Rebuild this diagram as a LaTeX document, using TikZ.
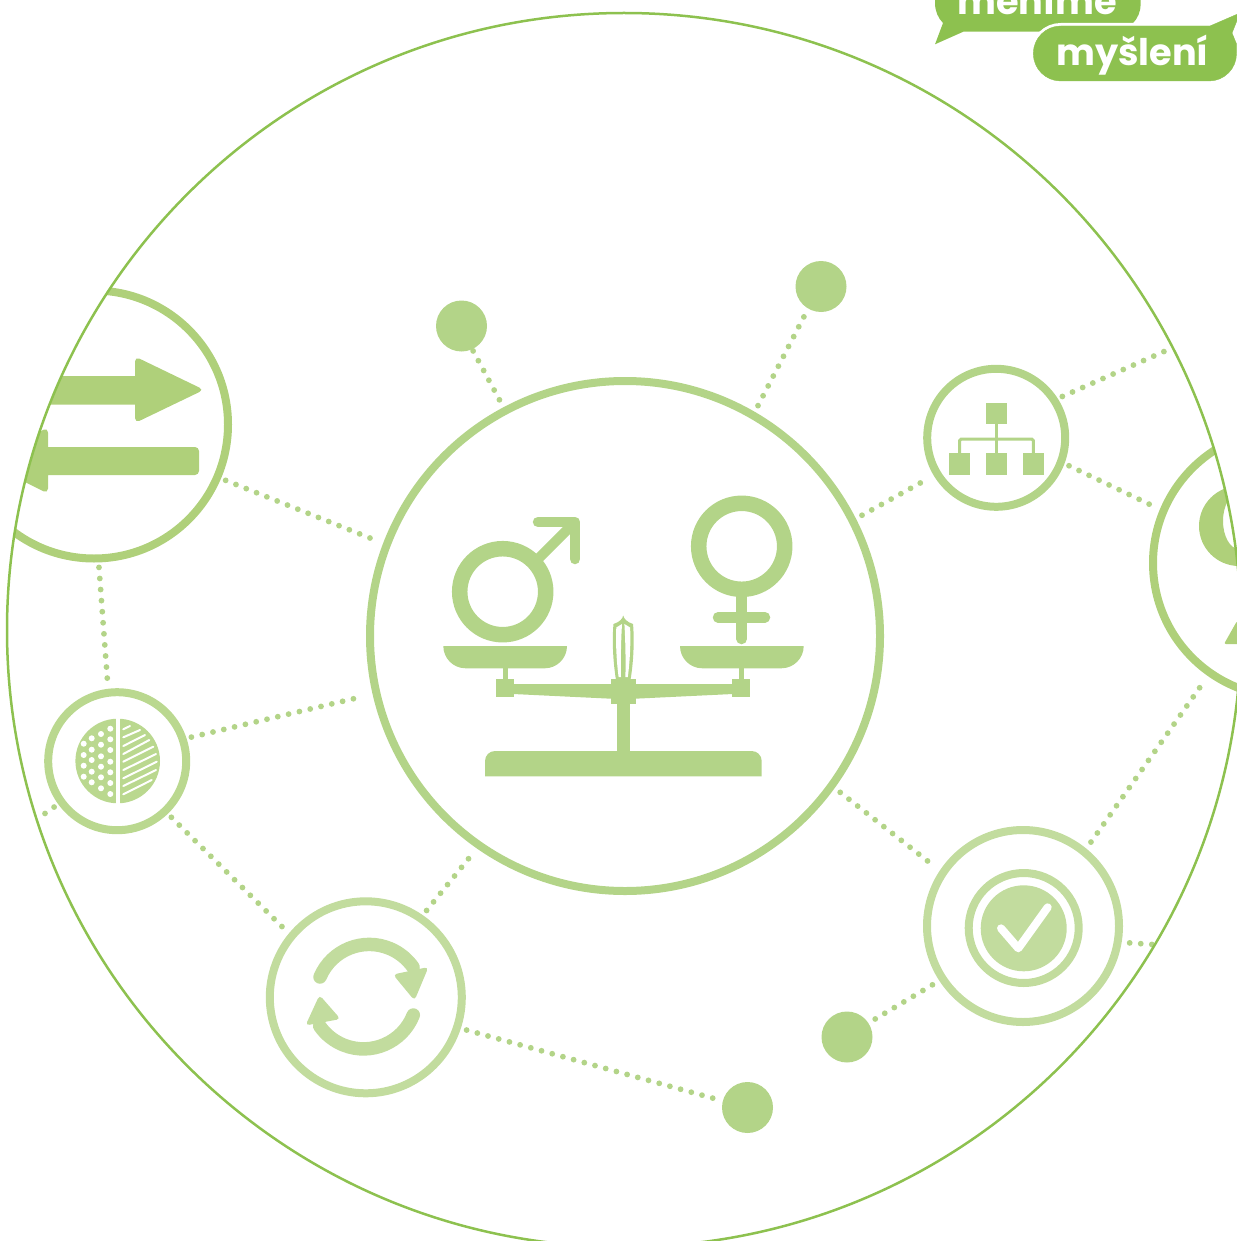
\documentclass[tikz,border=0pt]{standalone}
\usepackage{fontspec}
\usepackage{tikz}
\newfontfamily\bubblefont{Poppins}
\definecolor{edgegreen}{HTML}{8DC14F}
\definecolor{maingreen}{HTML}{B3D488}
\definecolor{midgreen}{HTML}{AFD07A}
\definecolor{softgreen}{HTML}{BAD88F}
\definecolor{palegreen}{HTML}{C2DC9E}

\begin{document}
\begin{tikzpicture}[x=1pt,y=1pt,yscale=-1,
    ring/.style={circle,draw=#1,line width=8,inner sep=0,outer sep=9},
    blob/.style={circle,fill=maingreen,minimum size=51,inner sep=0,outer sep=2},
    link/.style={draw=maingreen,line width=5.8,line cap=round,dash pattern=on 0pt off 11.1pt},
    bubbletext/.style={text=white,anchor=base,inner sep=0,font=\bubblefont\bfseries\fontsize{36.7}{37}\selectfont}]
    \useasboundingbox (0,0) rectangle (1236,1241);
    \begin{scope}
        \clip (624,630) circle (617);
        % the nodes
        \node[ring=maingreen,minimum size=510,outer sep=11] (scales) at (625,636) {};
        \node[ring=midgreen,minimum size=268] (arrows) at (94,424.5) {};
        \node[ring=midgreen,minimum size=268] (bigright) at (1287,563) {};
        \node[ring=maingreen,minimum size=138] (network) at (996.2,437.8) {};
        \node[ring=softgreen,minimum size=138] (pattern) at (117.2,761.2) {};
        \node[ring=palegreen,minimum size=192,outer sep=10] (refresh) at (365.8,997.3) {};
        \node[ring=palegreen,minimum size=192,outer sep=12] (check) at (1023,926) {};
        \node[blob] (blobA) at (461.5,326) {};
        \node[blob] (blobB) at (821,286.5) {};
        \node[blob] (blobC) at (847,1037) {};
        \node[blob] (blobD) at (747.5,1107.5) {};
        \coordinate (nettip) at (1172,348);
        \coordinate (pattip) at (40,817);
        \coordinate (chktip) at (1160,945);
        % the dotted links
        \draw[link] (blobA.-65) -- (scales.118);
        \draw[link] (scales.60) -- (blobB.240);
        \draw[link,shorten >=6] (scales.27) -- (network.211);
        \draw[link] (network.32) -- (nettip);
        \draw[link] (network.-21) -- (bigright.157);
        \draw[link] (arrows.-23) -- (scales.159);
        \draw[link] (arrows.272) -- (pattern.97);
        \draw[link,shorten >=3] (pattern.18) -- (scales.193);
        \draw[link] (pattern.216) -- (pattip);
        \draw[link] (pattern.-46) -- (refresh.140);
        \draw[link] (refresh.55) -- (scales.235);
        \draw[link] (refresh.-18) -- (blobD.165);
        \draw[link] (scales.-36) -- (check.146);
        \draw[link] (check.51) -- (bigright.235);
        \draw[link] (check.-9) -- (chktip);
        \draw[link] (check.213) -- (blobC.33);
        % arrows icon
        \fill[midgreen] (30,376) -- (135,376) [rounded corners=5] -- (135,356.5) -- (204,389.8) -- (135,423) [sharp corners] -- (135,404.5) -- (30,404.5) -- cycle;
        \fill[midgreen] (48,447) [rounded corners=4] -- (199,447) -- (199,475) [sharp corners] -- (48,475) [rounded corners=5] -- (48,493.5) -- (-18,460.5) -- (48,427.5) [sharp corners] -- cycle;
        % big right icon
        \fill[midgreen,even odd rule] (1239,526) ellipse (40 and 40) (1239,521) ellipse (16 and 28);
        \fill[midgreen,rounded corners=2] (1237,621) -- (1224,644) -- (1250,644) -- cycle;
    \end{scope}
    % outer circle
    \draw[edgegreen,line width=2.5] (624,630) circle (617);
    % scales icon
    \begin{scope}[maingreen]
        \draw[line width=15.5] (502.7,591.7) circle (43);
        \draw[line width=15.5] (741.7,546.3) circle (43);
        \draw[line width=10.5,line cap=round,line join=round] (538,522) -- (575,522) -- (575,559);
        \draw[line width=10] (538.5,558.5) -- (575,522);
        \draw[line width=10.5,line cap=round] (741.7,594) -- (741.7,639);
        \draw[line width=10.5,line cap=round] (718,617.3) -- (765,617.3);
        \foreach \px in {443.3,680} {
            \fill (\px,646) -- ++(123.7,0) arc (0:90:22.3) -- ++(-79.1,0) arc (90:180:22.3) -- cycle;
        }
        \fill (502.7,667) rectangle (508,681);
        \fill (738.7,667) rectangle (744,681);
        \fill (496.3,679.3) rectangle (514,697);
        \fill (732.3,679.3) rectangle (750,697);
        \fill (513,684) -- (733,684) -- (733,694) -- (635,698.7) -- (611,698.7) -- (513,694) -- cycle;
        \fill (611,679.3) rectangle (635.7,703.7);
        \fill (616.7,703) rectangle (630,752);
        \fill (485,776.3) -- (485,761) arc (180:270:10) -- (751.7,751) arc (270:360:10) -- (761.7,776.3) -- cycle;
        % the finial
        \fill (623.2,615.5) .. controls (624,619) and (627,622) .. (633,624) .. controls (634.5,640) and (633.5,662) .. (630.5,680) -- (616,680) .. controls (613,662) and (612,640) .. (613.5,624) .. controls (619.5,622) and (622.5,619) .. cycle;
        \fill[white] (616.3,627.5) -- (622,624) .. controls (621,640) and (620.6,660) .. (621,677) -- (618.6,677) .. controls (616.3,660) and (615.6,640) .. cycle;
        \fill[white] (630.1,627.5) -- (624.4,624) .. controls (625.4,640) and (625.8,660) .. (625.4,677) -- (627.8,677) .. controls (630.1,660) and (630.8,640) .. cycle;
    \end{scope}
    % network icon
    \begin{scope}[maingreen]
        \fill (986,403) rectangle (1007.3,424.3);
        \foreach \qx in {949,986,1022.7} {
            \fill (\qx,453.3) rectangle ++(21.3,21.4);
        }
        \draw[line width=3] (996.7,424) -- (996.7,454);
        \draw[line width=3,rounded corners=1.5] (959.7,454) -- (959.7,439) -- (1033.3,439) -- (1033.3,454);
    \end{scope}
    % pattern icon
    \begin{scope}
        \clip (117.7,761) circle (42.3);
        \fill[softgreen] (70,715) rectangle (115.5,810);
        \fill[softgreen] (120,715) rectangle (165,810);
    \end{scope}
    \foreach \dx/\dy in {110.3/728.7,110.3/739.3,110.3/750,110.3/761.7,110.3/772.3,110.3/783,110.3/794,
        101/734,101/744.7,101/756.3,101/766.7,101/777.3,101/788.3,
        91.7/738.3,91.7/749.7,91.7/760,91.7/771.7,91.7/782.3,
        83.7/743.7,83.7/755,83.7/765.7,83.7/776.7} {
        \fill[white] (\dx,\dy) circle (3);
    }
    \foreach \sy/\ex/\ey in {729.3/130/726,737.3/140/730,746/145/735,754/149.3/740,761.7/153.3/746.7,770/156/754,778.3/156.7/761.7,786/156/770,794.3/151.7/780} {
        \draw[white,line width=2,line cap=round] (123.3,\sy) -- (\ex,\ey);
    }
    % refresh icon
    \begin{scope}[palegreen]
        \draw[line width=13.5,line cap=round] (320,977) arc (203:325:53.5);
        \fill[rounded corners=4] (393,974.5) -- (428.5,967) -- (414.5,1000.5) -- cycle;
        \draw[line width=13.5,line cap=round] (413.3,1015) arc (21.5:145:53.5);
        \fill[rounded corners=4] (305.5,1025.5) -- (319.5,995) -- (340.5,1019) -- cycle;
    \end{scope}
    % check icon
    \draw[palegreen,line width=8] (1023.7,928) circle (55);
    \fill[palegreen] (1023.7,928.3) circle (43);
    \draw[white,line width=8,line cap=round,line join=round] (1001,928.3) -- (1018.3,948.3) -- (1047.7,907.3);
    % the two speech bubbles
    \fill[edgegreen] (935,-10) -- (935,3) .. controls (935,11) and (938,18) .. (943,23) -- (935,44.3) -- (963.3,31.7) -- (1113,31.7) arc (90:0:27.7) -- (1140.7,-10) -- cycle;
    \node[bubbletext] (meníme) at (1037,15) {měníme};
    \filldraw[edgegreen,preaction={draw=white,line width=6}] (1060.8,26) -- (1210,26) -- (1240,13) -- (1232,33) -- (1236.5,44) -- (1236.5,53.5) arc (0:90:27.5) -- (1060.8,81) arc (90:270:27.5) -- cycle;
    \node[bubbletext] (myslení) at (1132.5,65.7) {myšlení};
\end{tikzpicture}
\end{document}
